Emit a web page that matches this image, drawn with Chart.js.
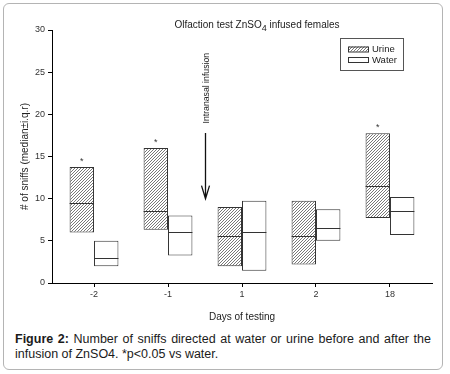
<!DOCTYPE html>
<html>
<head>
<meta charset="utf-8">
<script src="https://cdn.jsdelivr.net/npm/chart.js@4.4.1/dist/chart.umd.min.js"></script>
<style>
  html, body { margin: 0; padding: 0; background: #fff; }
  body { width: 450px; height: 374px; position: relative; overflow: hidden; font-family: Arial, 'Liberation Sans', sans-serif; }
  #frame { position: absolute; left: 3px; top: 3px; width: 440px; height: 367px; box-sizing: border-box; border: 1px solid #b4b4b4; border-radius: 6px; }
  #wrap { position: absolute; left: 0; top: 0; width: 450px; height: 325px; }
  #caption { position: absolute; left: 15px; top: 332px; width: 416px; font-size: 12.5px; line-height: 15px; text-align: justify; color: #1b1b1b; }
</style>
</head>
<body>
<div id="frame"></div>
<div id="wrap"><canvas id="sniffs"></canvas></div>
<div id="caption"><b>Figure 2:</b> Number of sniffs directed at water or urine before and after the infusion of ZnSO4. *p&lt;0.05 vs water.</div>
<script>
const days = ['-2', '-1', '1', '2', '18'];
const urineQ1 = [6, 6.3, 2, 2.2, 7.7];
const urineMedian = [9.5, 8.5, 5.6, 5.6, 11.5];
const urineQ3 = [13.75, 16, 9, 9.75, 17.75];
const waterQ1 = [2, 3.25, 1.45, 5, 5.7];
const waterMedian = [3, 6, 6, 6.5, 8.5];
const waterQ3 = [5, 8, 9.75, 8.75, 10.2];
const significant = [true, true, false, false, true];
const seriesNames = ['Urine', 'Water'];

const FONT = 'Arial, "Liberation Sans", sans-serif';

function hatch() {
  let c = document.createElement('canvas');
  c.width = 3;
  c.height = 3;
  let g = c.getContext('2d');
  g.fillStyle = '#fff';
  g.fillRect(0, 0, 3, 3);
  g.strokeStyle = '#555';
  g.lineWidth = 0.8;
  g.beginPath();
  g.moveTo(0, 3); g.lineTo(3, 0);
  g.moveTo(-1, 1); g.lineTo(1, -1);
  g.moveTo(2, 4); g.lineTo(4, 2);
  g.stroke();
  return g.createPattern(c, 'repeat');
}

function boxData(lo, hi) {
  return days.map((d, i) => ({ x: i, y: [lo[i], hi[i]] }));
}

const extras = {
  id: 'extras',
  afterDatasetsDraw(chart) {
    const ctx = chart.ctx;
    const xs = chart.scales.x;
    const ys = chart.scales.y;
    const medians = [urineMedian, waterMedian];
    ctx.save();

    // medians
    ctx.strokeStyle = '#333';
    ctx.lineWidth = 1;
    medians.forEach((m, d) => {
      chart.getDatasetMeta(d).data.forEach((bar, i) => {
        let y = Math.round(ys.getPixelForValue(m[i])) + 0.5;
        ctx.beginPath();
        ctx.moveTo(bar.x - bar.width / 2, y);
        ctx.lineTo(bar.x + bar.width / 2, y);
        ctx.stroke();
      });
    });

    // asterisks
    ctx.fillStyle = '#333';
    ctx.font = '9px ' + FONT;
    ctx.textAlign = 'center';
    ctx.textBaseline = 'middle';
    chart.getDatasetMeta(0).data.forEach((bar, i) => {
      if (significant[i]) ctx.fillText('*', bar.x, bar.y - 6);
    });

    // infusion arrow
    let ax = Math.round(xs.getPixelForValue(1.5)) + 0.5;
    let top = ys.getPixelForValue(17.8);
    let tip = ys.getPixelForValue(10);
    ctx.strokeStyle = '#111';
    ctx.lineWidth = 1.3;
    ctx.beginPath();
    ctx.moveTo(ax, top);
    ctx.lineTo(ax, tip);
    ctx.moveTo(ax - 4, tip - 13);
    ctx.lineTo(ax, tip);
    ctx.lineTo(ax + 4, tip - 13);
    ctx.stroke();
    ctx.save();
    ctx.translate(ax + 1, ys.getPixelForValue(23.1));
    ctx.rotate(-Math.PI / 2);
    ctx.fillStyle = '#222';
    ctx.font = '8.7px ' + FONT;
    ctx.fillText('Intranasal infusion', 0, 0);
    ctx.restore();

    // title with subscript
    ctx.fillStyle = '#222';
    ctx.textAlign = 'left';
    ctx.textBaseline = 'alphabetic';
    let a = 'Olfaction test ZnSO', b = '4', c = ' infused females';
    ctx.font = '10px ' + FONT;
    let wa = ctx.measureText(a).width, wc = ctx.measureText(c).width;
    ctx.font = '9px ' + FONT;
    let wb = ctx.measureText(b).width;
    let tx = 257 - (wa + wb + wc) / 2;
    ctx.font = '10px ' + FONT;
    ctx.fillText(a, tx, 28);
    ctx.font = '9px ' + FONT;
    ctx.fillText(b, tx + wa, 31);
    ctx.font = '10px ' + FONT;
    ctx.fillText(c, tx + wa + wb, 28);

    // legend
    ctx.strokeStyle = '#555';
    ctx.lineWidth = 1;
    ctx.strokeRect(340.5, 38.5, 63, 32);
    const fills = [chart.data.datasets[0].backgroundColor, '#fff'];
    ctx.font = '9.5px ' + FONT;
    ctx.textBaseline = 'middle';
    seriesNames.forEach((name, k) => {
      let y = 46.5 + k * 10.5;
      ctx.fillStyle = fills[k];
      ctx.fillRect(348, y, 20, 5);
      ctx.strokeStyle = '#333';
      ctx.strokeRect(348.5, y + 0.5, 20, 5);
      ctx.fillStyle = '#222';
      ctx.fillText(name, 372, y + 3);
    });
    ctx.restore();
  },
};

function drawChart() {
  let ctx = document.getElementById('sniffs').getContext('2d');
  let myChart = new Chart(ctx, {
    type: 'bar',
    data: {
      datasets: [
        {
          label: seriesNames[0],
          data: boxData(urineQ1, urineQ3),
          backgroundColor: hatch(),
          borderColor: '#333',
          borderWidth: 1,
          borderSkipped: false,
        },
        {
          label: seriesNames[1],
          data: boxData(waterQ1, waterQ3),
          backgroundColor: '#fff',
          borderColor: '#333',
          borderWidth: 1,
          borderSkipped: false,
        },
      ],
    },
    options: {
      responsive: true,
      maintainAspectRatio: false,
      animation: false,
      categoryPercentage: 0.66,
      barPercentage: 1,
      layout: { padding: { left: 14, right: 18, top: 30, bottom: 0 } },
      scales: {
        x: {
          type: 'linear',
          min: -0.568,
          max: 4.568,
          offset: false,
          afterBuildTicks: (s) => { s.ticks = days.map((d, i) => ({ value: i })); },
          afterFit: (s) => { s.height = 42; },
          ticks: {
            callback: (v) => days[v],
            color: '#333',
            font: { size: 9, family: FONT },
            padding: 2,
            maxRotation: 0,
            autoSkip: false,
          },
          grid: { offset: false, drawOnChartArea: false, tickLength: 4, color: '#000' },
          border: { color: '#000' },
          title: { display: true, text: 'Days of testing', color: '#222', font: { size: 10, family: FONT }, padding: { top: 0, bottom: 2 } },
        },
        y: {
          min: 0,
          max: 30,
          afterFit: (s) => { s.width = 38; },
          ticks: { stepSize: 5, color: '#333', font: { size: 9, family: FONT }, padding: 3 },
          grid: { drawOnChartArea: false, tickLength: 4, color: '#000' },
          border: { color: '#000' },
          title: { display: true, text: '# of sniffs (median±i.q.r)', color: '#222', font: { size: 10, family: FONT }, padding: { top: 5, bottom: 0 } },
        },
      },
      plugins: {
        legend: { display: false },
        tooltip: { enabled: false },
      },
    },
    plugins: [extras],
  });
}

document.addEventListener('DOMContentLoaded', (ev) => {
  drawChart();
});
</script>
</body>
</html>
